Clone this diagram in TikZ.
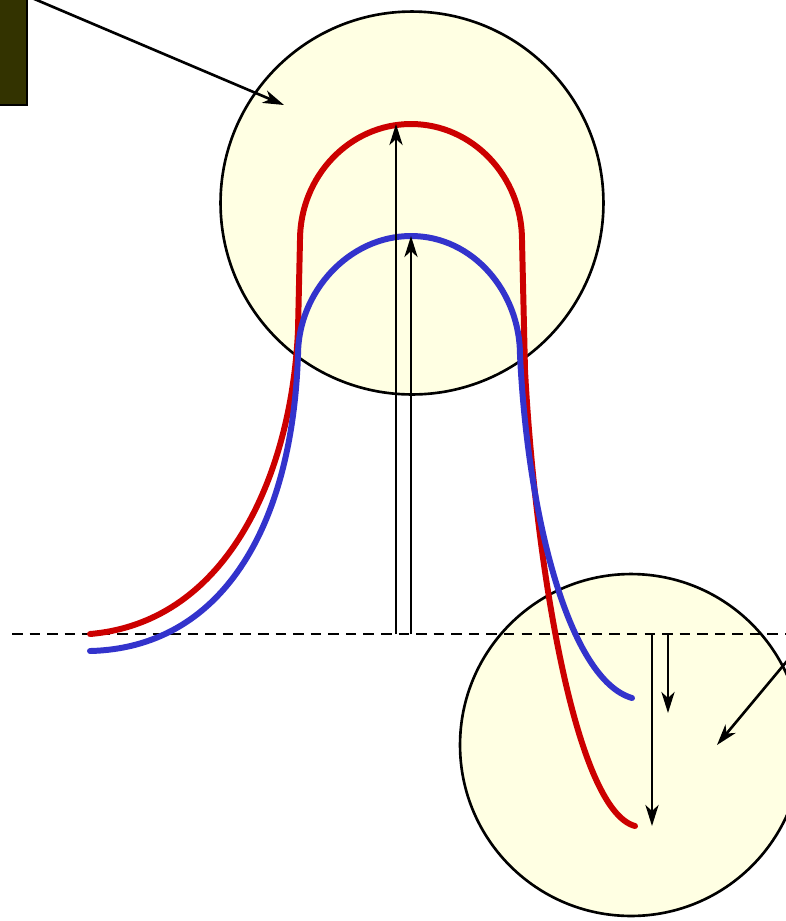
\documentclass[tikz,border=0pt]{standalone}
\usepackage{tikz}
\usetikzlibrary{arrows.meta}
\definecolor{Cream}{HTML}{FFFFE3}
\definecolor{Olive}{HTML}{333300}
\definecolor{CurveRed}{HTML}{CC0000}
\definecolor{CurveBlue}{HTML}{3333CC}
\tikzset{
  pointer/.style={-{Stealth[length=12pt,width=7.5pt,inset=3.5pt]},line width=1.5pt,draw=black},
  curve/.style={line width=3.4pt,line cap=round}
}

\begin{document}
\begin{tikzpicture}[x=0.02cm,y=-0.02cm]
\path[use as bounding box] (0,0) rectangle (786,921);

% label block, cut off at the corner
\draw[fill=Olive,line width=1.5pt] (-10,-10) rectangle (27,105);

% the two circles
\draw[fill=Cream,line width=1.5pt] (412,203) circle[radius=3.83cm];
\draw[fill=Cream,line width=1.5pt] (631,745) circle[radius=3.42cm];

% base line
\draw[dash pattern=on 6pt off 4pt,line width=1.5pt] (12,634) -- (790,634);

% curves
\draw[curve,CurveRed] (90,634) .. controls (230,622) and (292,470) .. (298,330)
  -- (300,240) .. controls (300,176) and (350,124) .. (411,124)
  .. controls (472,124) and (522,176) .. (522,240)
  -- (525,370) .. controls (535,560) and (575,810) .. (635,826);
\draw[curve,CurveBlue] (90,651) .. controls (220,648) and (292,530) .. (298,355)
  .. controls (298,292) and (349,236) .. (411,236)
  .. controls (473,236) and (520,292) .. (520,355)
  .. controls (528,520) and (570,680) .. (632,698);

% rising arrows
\coordinate (riseA0) at (396,634);
\coordinate (riseA1) at (396,124);
\coordinate (riseB0) at (411,634);
\coordinate (riseB1) at (411,236);
\draw[pointer] (riseA0) -- (riseA1);
\draw[pointer] (riseB0) -- (riseB1);

% falling arrows
\coordinate (fallA0) at (652,634);
\coordinate (fallA1) at (652,826);
\coordinate (fallB0) at (668,634);
\coordinate (fallB1) at (668,713);
\draw[pointer] (fallA0) -- (fallA1);
\draw[pointer] (fallB0) -- (fallB1);

% pointers into the circles
\coordinate (tagTop) at (32,-2);
\coordinate (topIn) at (284,105);
\coordinate (tagBot) at (792,655);
\coordinate (botIn) at (717,745);
\draw[pointer] (tagTop) -- (topIn);
\draw[pointer] (tagBot) -- (botIn);
\end{tikzpicture}
\end{document}
